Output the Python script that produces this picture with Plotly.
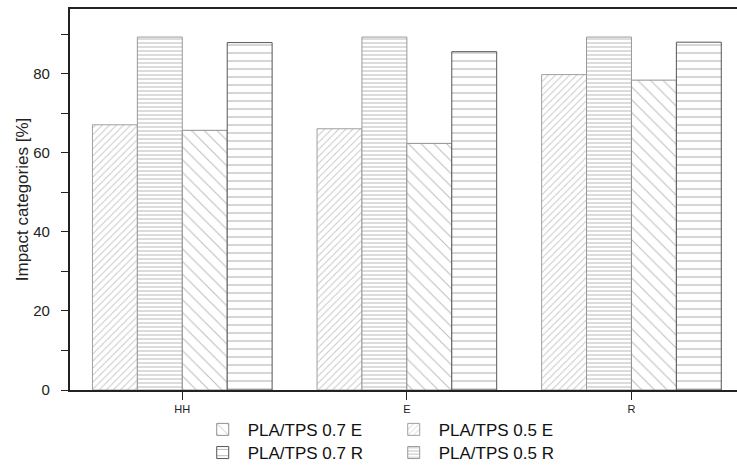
import plotly.graph_objects as go

categories = ["HH", "E", "R"]
series_names = ["PLA/TPS 0.5 E", "PLA/TPS 0.5 R", "PLA/TPS 0.7 E", "PLA/TPS 0.7 R"]
pla05_e = [67.1, 66.1, 79.8]
pla05_r = [89.3, 89.3, 89.3]
pla07_e = [65.7, 62.4, 78.4]
pla07_r = [87.9, 85.6, 88.0]
values = [pla05_e, pla05_r, pla07_e, pla07_r]

styles = [
    dict(shape="/", size=5, solidity=0.18, fg="#8c8c8c", line="#a0a0a0", rank=2, leg="legend"),
    dict(shape="-", size=4, solidity=0.28, fg="#808080", line="#999999", rank=2, leg="legend2"),
    dict(shape="\\", size=9, solidity=0.12, fg="#808080", line="#909090", rank=1, leg="legend"),
    dict(shape="-", size=8, solidity=0.14, fg="#6a6a6a", line="#555555", rank=1, leg="legend2"),
]

fig = go.Figure()
for name, vals, st in zip(series_names, values, styles):
    fig.add_trace(go.Bar(
        x=categories, y=vals, name=name,
        marker=dict(color="white",
                    line=dict(color=st["line"], width=1),
                    pattern=dict(shape=st["shape"], size=st["size"],
                                 solidity=st["solidity"], fgcolor=st["fg"],
                                 bgcolor="white", fillmode="overlay")),
        legendrank=st["rank"], legend=st["leg"],
    ))

leg_common = dict(orientation="h", x=0.1915, xanchor="left", yref="container",
                  yanchor="top", entrywidth=136, entrywidthmode="pixels",
                  font=dict(size=17, color="#111"), traceorder="normal",
                  itemwidth=40, bgcolor="rgba(0,0,0,0)")

fig.update_layout(
    width=737, height=468,
    margin=dict(l=70, r=0, t=9, b=78, autoexpand=False),
    paper_bgcolor="white", plot_bgcolor="white",
    barmode="group", bargap=0.2, bargroupgap=0,
    font=dict(family="Liberation Sans, Arial", color="#222"),
    showlegend=True,
    legend=dict(y=0.12, **leg_common),
    legend2=dict(y=0.0705, **leg_common),
    xaxis=dict(range=[-0.5, 2.47], showline=True, linecolor="#222", linewidth=1.5,
               mirror=True, ticks="outside", ticklen=8, tickcolor="#222",
               tickfont=dict(size=11, color="#222"), showgrid=False),
    yaxis=dict(range=[0, 96.4], showline=True, linecolor="#222", linewidth=1.5,
               ticks="outside", ticklen=7, tickcolor="#222", dtick=20,
               ticksuffix="\u00a0\u00a0",
               tickfont=dict(size=15, color="#222"), showgrid=False, zeroline=False,
               minor=dict(dtick=10, ticks="outside", ticklen=7, tickcolor="#222"),
               title=dict(text="Impact categories [%]", font=dict(size=17, color="#222"),
                          standoff=0)),
)

fig.write_html("out.html")
